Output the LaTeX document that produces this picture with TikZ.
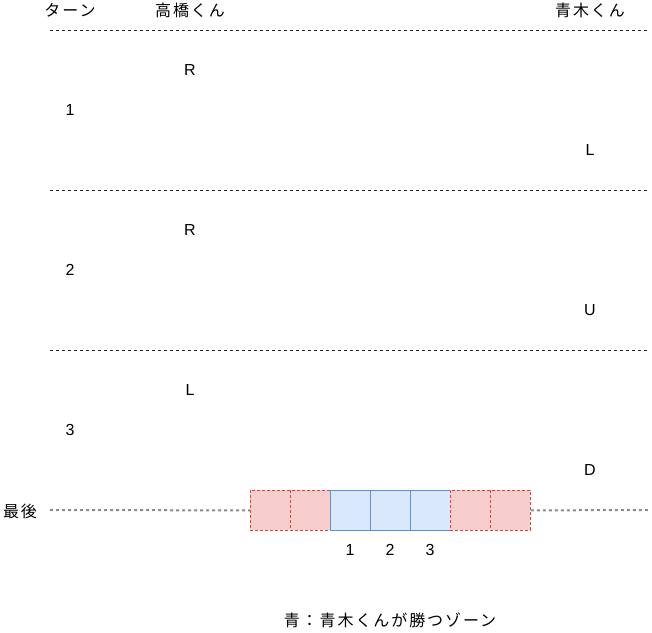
\documentclass[tikz,border=0pt]{standalone}
\usepackage{fontspec}
\setmainfont{Liberation Sans}
\newfontfamily\jp[LetterSpace=12]{Noto Sans CJK JP}
\begin{document}
\begin{tikzpicture}[x=1pt,y=-1pt,
  lbl/.style={inner sep=0pt,font=\fontsize{16}{19}\selectfont},
  jlbl/.style={inner sep=0pt,font=\fontsize{16}{19}\selectfont\jp},
  sep/.style={draw=black!85,line width=0.8pt,dash pattern=on 3pt off 3pt},
  lastline/.style={draw=black!45,line width=2pt,dash pattern=on 3pt off 3pt},
  redcell/.style={draw=rstroke,fill={rgb,255:red,248;green,206;blue,204},line width=0.8pt,dash pattern=on 3pt off 2pt,minimum width=40pt,minimum height=40pt,inner sep=0pt,anchor=north west},
  bluecell/.style={draw={rgb,255:red,108;green,142;blue,191},fill={rgb,255:red,218;green,232;blue,252},line width=0.8pt,minimum width=40pt,minimum height=40pt,inner sep=0pt,anchor=north west}
]
\definecolor{rstroke}{RGB}{184,84,80}
\useasboundingbox (0,0) rectangle (652,632);
% headers
\node[jlbl] (hturn) at (70,10) {ターン};
\node[jlbl] (htak) at (190,10) {高橋くん};
\node[jlbl] (haok) at (590,10) {青木くん};
% separators
\coordinate (s1a) at (50,30); \coordinate (s1b) at (648,30);
\coordinate (s2a) at (50,190); \coordinate (s2b) at (648,190);
\coordinate (s3a) at (50,350); \coordinate (s3b) at (648,350);
\draw[sep] (s1a) -- (s1b);
\draw[sep] (s2a) -- (s2b);
\draw[sep] (s3a) -- (s3b);
% turn 1
\node[lbl] (t1r) at (190,70) {R};
\node[lbl] (t1n) at (70,110) {1};
\node[lbl] (t1l) at (590,150) {L};
% turn 2
\node[lbl] (t2r) at (190,230) {R};
\node[lbl] (t2n) at (70,270) {2};
\node[lbl] (t2u) at (590,310) {U};
% turn 3
\node[lbl] (t3l) at (190,390) {L};
\node[lbl] (t3n) at (70,430) {3};
\node[lbl] (t3d) at (590,470) {D};
% last
\node[jlbl] (last) at (20,511) {最後};
\coordinate (la) at (50,510); \coordinate (lb) at (648,510);
\node[redcell] (c1) at (250,490) {};
\node[redcell] (c2) at (290,490) {};
\node[bluecell] (c3) at (330,490) {};
\node[bluecell] (c4) at (370,490) {};
\node[bluecell] (c5) at (410,490) {};
\node[redcell] (c6) at (450,490) {};
\node[redcell] (c7) at (490,490) {};
\draw[lastline] (la) -- (c1.west);
\draw[lastline] (c7.east) -- (lb);
\node[lbl] (n1) at (350,550) {1};
\node[lbl] (n2) at (390,550) {2};
\node[lbl] (n3) at (430,550) {3};
\node[jlbl] (legend) at (390,620) {青：青木くんが勝つゾーン};
\end{tikzpicture}
\end{document}
